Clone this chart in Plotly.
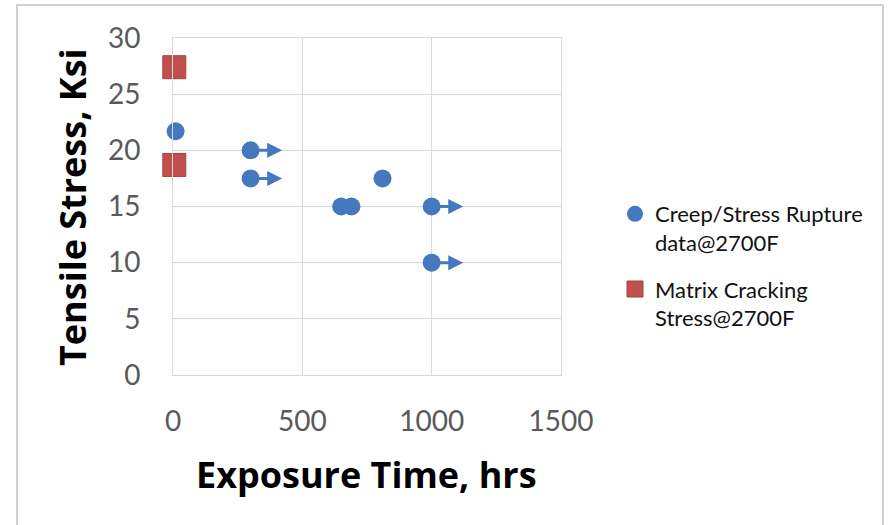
import plotly.graph_objects as go

# Data
creep_time = [10, 300, 300, 650, 690, 810, 1000, 1000]
creep_stress = [21.7, 20, 17.5, 15, 15, 17.5, 15, 10]
runout = [False, True, True, False, False, False, True, True]  # test still running (arrow)
runout_extra = 122  # hrs, arrow length

matrix_time = [5, 5]
matrix_stress = [27.4, 18.7]

x_ticks = [0, 500, 1000, 1500]
y_ticks = [0, 5, 10, 15, 20, 25, 30]

x_title = "Exposure Time, hrs"
y_title = "Tensile Stress, Ksi"

BLUE = "#4678C0"
RED = "#C0504D"
GRID = "#D9D9D9"
TICK = "#595959"
FONT = "Lato"
TITLE_FONT = "Open Sans"

fig = go.Figure()

fig.add_trace(go.Scatter(
    x=creep_time, y=creep_stress, mode="markers",
    name="Creep/Stress Rupture<br>data@2700F", legendgroup="a",
    marker=dict(symbol="circle", size=18, color=BLUE, line=dict(width=0)),
    cliponaxis=False,
))
fig.add_trace(go.Scatter(
    x=matrix_time, y=matrix_stress, mode="markers",
    name="Matrix Cracking<br>Stress@2700F", legendgroup="b",
    marker=dict(symbol="square", size=23, color=RED, line=dict(width=1, color="#A8403D")),
    cliponaxis=False,
))

for t, s, r in zip(creep_time, creep_stress, runout):
    if r:
        fig.add_annotation(
            x=t + runout_extra, y=s, ax=t, ay=s,
            xref="x", yref="y", axref="x", ayref="y",
            showarrow=True, arrowhead=2, arrowsize=1.0, arrowwidth=3,
            arrowcolor=BLUE, text="",
        )

# Axis titles (placed as in the reference)
fig.add_annotation(text="<b>" + x_title + "</b>", xref="paper", yref="paper",
                   x=(366 - 173) / 388, y=(375 - 474) / 337,
                   xanchor="center", yanchor="middle", showarrow=False,
                   font=dict(family=TITLE_FONT, size=36, color="#000000"))
fig.add_annotation(text="<b>" + y_title + "</b>", xref="paper", yref="paper",
                   x=(72 - 173) / 388, y=(375 - 207) / 337, textangle=-90,
                   xanchor="center", yanchor="middle", showarrow=False,
                   font=dict(family=TITLE_FONT, size=36, color="#000000"))

# Chart border
fig.add_shape(type="rect", xref="paper", yref="paper",
              x0=(17 - 173) / 388, x1=(883 - 173) / 388,
              y0=(375 - 540) / 337, y1=(375 - 5) / 337,
              line=dict(color="#D0D0D0", width=2), fillcolor="rgba(0,0,0,0)",
              layer="below")

fig.update_layout(
    width=888, height=525,
    margin=dict(l=173, r=327, t=38, b=150),
    paper_bgcolor="white", plot_bgcolor="white",
    font=dict(family=FONT, color=TICK),
    showlegend=True,
    legend=dict(
        x=(615 - 173) / 388, y=0.54, xanchor="left", yanchor="top",
        font=dict(family=FONT, size=22, color="#111111"),
        tracegroupgap=15, itemsizing="trace", valign="top",
    ),
    xaxis=dict(
        range=[0, 1500], tickvals=x_ticks, ticktext=[str(v) for v in x_ticks],
        showgrid=True, gridcolor=GRID, gridwidth=1,
        showline=True, linecolor=GRID, mirror=True, zeroline=False,
        ticks="", ticklabelstandoff=21,
        tickfont=dict(family=FONT, size=28, color=TICK),
    ),
    yaxis=dict(
        range=[0, 30], tickvals=y_ticks, ticktext=[str(v) for v in y_ticks],
        showgrid=True, gridcolor=GRID, gridwidth=1,
        showline=True, linecolor=GRID, mirror=True, zeroline=False,
        ticks="", ticklabelstandoff=26,
        tickfont=dict(family=FONT, size=28, color=TICK),
    ),
)

fig.write_html("out.html", config={"displayModeBar": False},
               post_script="document.body.style.margin='0';")
